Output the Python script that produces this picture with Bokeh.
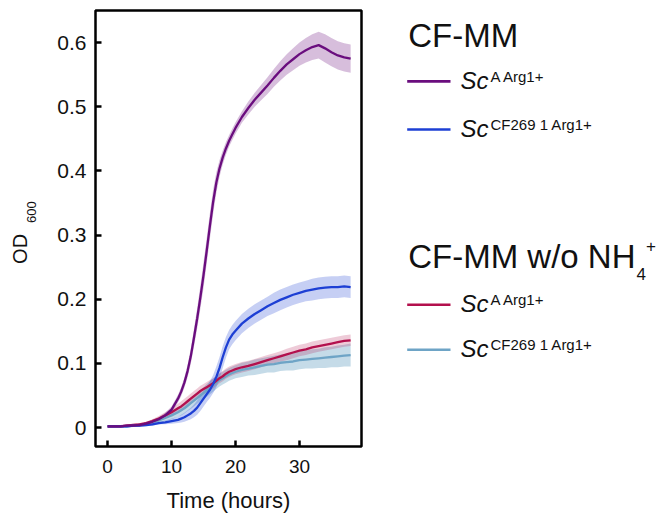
import numpy as np
from math import pi
from bokeh.plotting import figure
from bokeh.layouts import row
from bokeh.models import Range1d, FixedTicker
from bokeh.embed import file_html
from bokeh.resources import INLINE
from bokeh.core.properties import value

FONT = "Liberation Sans"
TXT = "#111111"

# ---------------- data ----------------
time_h = [0, 1, 2, 3, 4, 5, 6, 7, 8, 9, 10, 11,
          11.5, 12, 12.5, 13, 13.5, 14, 14.5, 15, 15.5, 16, 16.5, 17, 17.5, 18, 18.5, 19, 19.5, 20,
          21, 22, 23, 24, 25, 26, 27, 28, 29, 30, 31, 32, 33, 34, 35, 36, 37, 38]

# CF-MM, Sc A Arg1+
cfmm_a_mean = [0.002, 0.002, 0.002, 0.003, 0.003, 0.004, 0.006, 0.009, 0.013, 0.019, 0.028, 0.045,
               0.056, 0.070, 0.088, 0.111, 0.140, 0.170, 0.203, 0.238, 0.276, 0.315, 0.352, 0.382, 0.404, 0.421, 0.435, 0.447, 0.457, 0.467,
               0.484, 0.498, 0.511, 0.522, 0.533, 0.545, 0.556, 0.566, 0.574, 0.582, 0.588, 0.593, 0.596, 0.591, 0.585, 0.580, 0.577, 0.575]
cfmm_a_sd = [0.002, 0.002, 0.002, 0.002, 0.002, 0.002, 0.002, 0.003, 0.003, 0.004, 0.005, 0.006,
             0.007, 0.008, 0.010, 0.012, 0.014, 0.016, 0.018, 0.020, 0.020, 0.020, 0.019, 0.016, 0.013, 0.011, 0.010, 0.009, 0.009, 0.009,
             0.009, 0.010, 0.011, 0.012, 0.013, 0.014, 0.015, 0.016, 0.017, 0.018, 0.019, 0.020, 0.021, 0.022, 0.022, 0.022, 0.022, 0.022]

# CF-MM, Sc CF269 1 Arg1+
cfmm_cf_mean = [0.002, 0.002, 0.002, 0.002, 0.003, 0.003, 0.004, 0.005, 0.007, 0.008, 0.010, 0.012,
                0.014, 0.016, 0.019, 0.022, 0.026, 0.031, 0.038, 0.045, 0.052, 0.059, 0.068, 0.079, 0.093, 0.110, 0.125, 0.137, 0.145, 0.151,
                0.162, 0.170, 0.177, 0.183, 0.189, 0.194, 0.199, 0.203, 0.207, 0.210, 0.213, 0.215, 0.217, 0.218, 0.219, 0.219, 0.220, 0.219]
cfmm_cf_sd = [0.002, 0.002, 0.002, 0.002, 0.002, 0.002, 0.002, 0.002, 0.002, 0.003, 0.004, 0.005,
              0.006, 0.007, 0.008, 0.009, 0.010, 0.011, 0.012, 0.012, 0.012, 0.013, 0.014, 0.016, 0.017, 0.017, 0.016, 0.015, 0.015, 0.015,
              0.015, 0.015, 0.015, 0.015, 0.015, 0.016, 0.016, 0.016, 0.016, 0.016, 0.016, 0.017, 0.017, 0.017, 0.017, 0.017, 0.017, 0.017]

# CF-MM w/o NH4+, Sc A Arg1+
nonh_a_mean = [0.002, 0.002, 0.002, 0.003, 0.004, 0.005, 0.007, 0.010, 0.014, 0.019, 0.024, 0.030,
               0.033, 0.037, 0.041, 0.045, 0.049, 0.053, 0.057, 0.060, 0.063, 0.066, 0.069, 0.073, 0.077, 0.080, 0.084, 0.087, 0.089, 0.091,
               0.094, 0.096, 0.099, 0.102, 0.105, 0.108, 0.111, 0.114, 0.117, 0.120, 0.122, 0.125, 0.127, 0.129, 0.131, 0.133, 0.135, 0.136]
nonh_a_sd = [0.002, 0.002, 0.002, 0.002, 0.002, 0.002, 0.002, 0.003, 0.004, 0.005, 0.006, 0.007,
             0.008, 0.008, 0.008, 0.008, 0.008, 0.008, 0.008, 0.008, 0.008, 0.008, 0.008, 0.008, 0.008, 0.008, 0.008, 0.008, 0.008, 0.008,
             0.008, 0.008, 0.008, 0.008, 0.008, 0.008, 0.008, 0.009, 0.009, 0.009, 0.009, 0.009, 0.009, 0.009, 0.009, 0.009, 0.009, 0.009]

# CF-MM w/o NH4+, Sc CF269 1 Arg1+
nonh_cf_mean = [0.002, 0.002, 0.002, 0.002, 0.003, 0.004, 0.006, 0.008, 0.011, 0.015, 0.019, 0.024,
                0.027, 0.030, 0.034, 0.038, 0.042, 0.046, 0.050, 0.054, 0.058, 0.062, 0.066, 0.070, 0.074, 0.077, 0.080, 0.083, 0.085, 0.087,
                0.090, 0.092, 0.094, 0.096, 0.098, 0.099, 0.101, 0.102, 0.103, 0.105, 0.106, 0.107, 0.108, 0.109, 0.110, 0.111, 0.112, 0.113]
nonh_cf_sd = [0.002, 0.002, 0.002, 0.002, 0.002, 0.002, 0.002, 0.004, 0.004, 0.005, 0.006, 0.007,
              0.008, 0.008, 0.008, 0.009, 0.009, 0.009, 0.009, 0.009, 0.010, 0.010, 0.010, 0.010, 0.010, 0.010, 0.010, 0.010, 0.010, 0.010,
              0.011, 0.011, 0.012, 0.012, 0.012, 0.013, 0.013, 0.013, 0.014, 0.014, 0.014, 0.015, 0.015, 0.016, 0.016, 0.017, 0.017, 0.018]

x_ticks = [0, 10, 20, 30]
x_tick_labels = ["0", "10", "20", "30"]
y_ticks = [0, 0.1, 0.2, 0.3, 0.4, 0.5, 0.6]
y_tick_labels = ["0", "0.1", "0.2", "0.3", "0.4", "0.5", "0.6"]

group_titles = ["CF-MM", "CF-MM w/o NH"]
strain_labels = ["A Arg1+", "CF269 1 Arg1+"]

series = [
    # (mean, sd, line colour, band alpha)
    (nonh_cf_mean, nonh_cf_sd, "#6ea4c6", 0.40),
    (nonh_a_mean, nonh_a_sd, "#b3104d", 0.22),
    (cfmm_cf_mean, cfmm_cf_sd, "#1d3fd4", 0.25),
    (cfmm_a_mean, cfmm_a_sd, "#6a0d7e", 0.27),
]

# layout (page pixels; the page has no body margin)
H = 515
TOP, BOTTOM = 10, 68          # frame spans page y 10 .. 447
YLAB_W, PLOT_W, LEG_W = 40, 335, 285
FRAME_BOTTOM = H - BOTTOM
K = 0.36                       # svg text baseline correction (fraction of font size)


def blank(width, x0):
    f = figure(width=width, height=H, output_backend="svg", toolbar_location=None,
               x_range=Range1d(x0, x0 + width), y_range=Range1d(FRAME_BOTTOM, TOP),
               x_axis_type=None, y_axis_type=None, min_border_left=0, min_border_right=0,
               min_border_top=TOP, min_border_bottom=BOTTOM, outline_line_color=None)
    f.grid.visible = False
    return f


def txt(fig, xs, ys, texts, size, style="normal", angle=0.0):
    if angle:
        xs = [x - K * size for x in xs]
    else:
        ys = [y - K * size for y in ys]
    fig.text(x=xs, y=ys, text=texts, angle=angle, text_font=value(FONT),
             text_font_size=value(f"{size}px"), text_font_style=style, text_color=TXT,
             text_baseline="alphabetic", text_align="left")


# ---------------- y-axis title panel ----------------
yl = blank(YLAB_W, 0)
txt(yl, [27], [264], ["OD"], 20, angle=pi / 2)
txt(yl, [36], [223], ["600"], 13, angle=pi / 2)

# ---------------- main plot ----------------
p = figure(width=PLOT_W, height=H, output_backend="svg", toolbar_location=None,
           x_range=Range1d(-1.9, 39.7), y_range=Range1d(-0.0295, 0.65),
           min_border_left=55, min_border_right=14, min_border_top=TOP, min_border_bottom=BOTTOM)
p.grid.visible = False
p.outline_line_color = "black"
p.outline_line_width = 2.5
p.outline_line_alpha = 1.0

t = np.array(time_h, dtype=float)
for mean, sd, col, a in series:
    m = np.array(mean)
    s = np.array(sd)
    p.varea(x=t, y1=m - s, y2=m + s, fill_color=col, fill_alpha=a)
for mean, sd, col, a in series:
    p.line(x=t, y=np.array(mean), line_color=col, line_width=2.3)

for ax in (p.xaxis[0], p.yaxis[0]):
    ax.axis_line_color = None
    ax.major_tick_in = 6
    ax.major_tick_out = 0
    ax.major_tick_line_width = 2.5
    ax.major_tick_line_color = "black"
    ax.minor_tick_line_color = None
    ax.major_label_text_font = FONT
    ax.major_label_text_color = TXT
    ax.axis_label_text_font = FONT
    ax.axis_label_text_font_style = "normal"
    ax.axis_label_text_color = TXT

p.xaxis.ticker = FixedTicker(ticks=x_ticks)
p.xaxis.major_label_overrides = dict(zip(x_ticks, x_tick_labels))
p.xaxis.major_label_text_font_size = "19px"
p.xaxis.major_label_standoff = 13
p.xaxis.axis_label = "Time (hours)"
p.xaxis.axis_label_text_font_size = "22px"
p.xaxis.axis_label_standoff = 12

p.yaxis.ticker = FixedTicker(ticks=y_ticks)
p.yaxis.major_label_overrides = dict(zip(y_ticks, y_tick_labels))
p.yaxis.major_label_text_font_size = "21px"
p.yaxis.major_label_standoff = 9

# ---------------- legend panel ----------------
x0 = YLAB_W + PLOT_W
lg = blank(LEG_W, x0)

txt(lg, [407.7, 407.7], [46.7, 268.3], group_titles, 33)
txt(lg, [636], [280], ["4"], 17)
txt(lg, [645.5], [252], ["+"], 17)

line_y = [81, 129.3, 305, 350]
line_cols = ["#6a0d7e", "#1d3fd4", "#b3104d", "#6ea4c6"]
lg.segment(x0=[406.7] * 4, y0=line_y, x1=[450] * 4, y1=line_y, line_color=line_cols, line_width=2.6)
txt(lg, [460] * 4, [y + 7.3 for y in line_y], ["Sc"] * 4, 24, style="italic")
txt(lg, [490] * 4, [y + 0.5 for y in line_y], strain_labels * 2, 15)

layout = row(yl, p, lg)
open("out.html", "w").write(file_html(layout, INLINE))
